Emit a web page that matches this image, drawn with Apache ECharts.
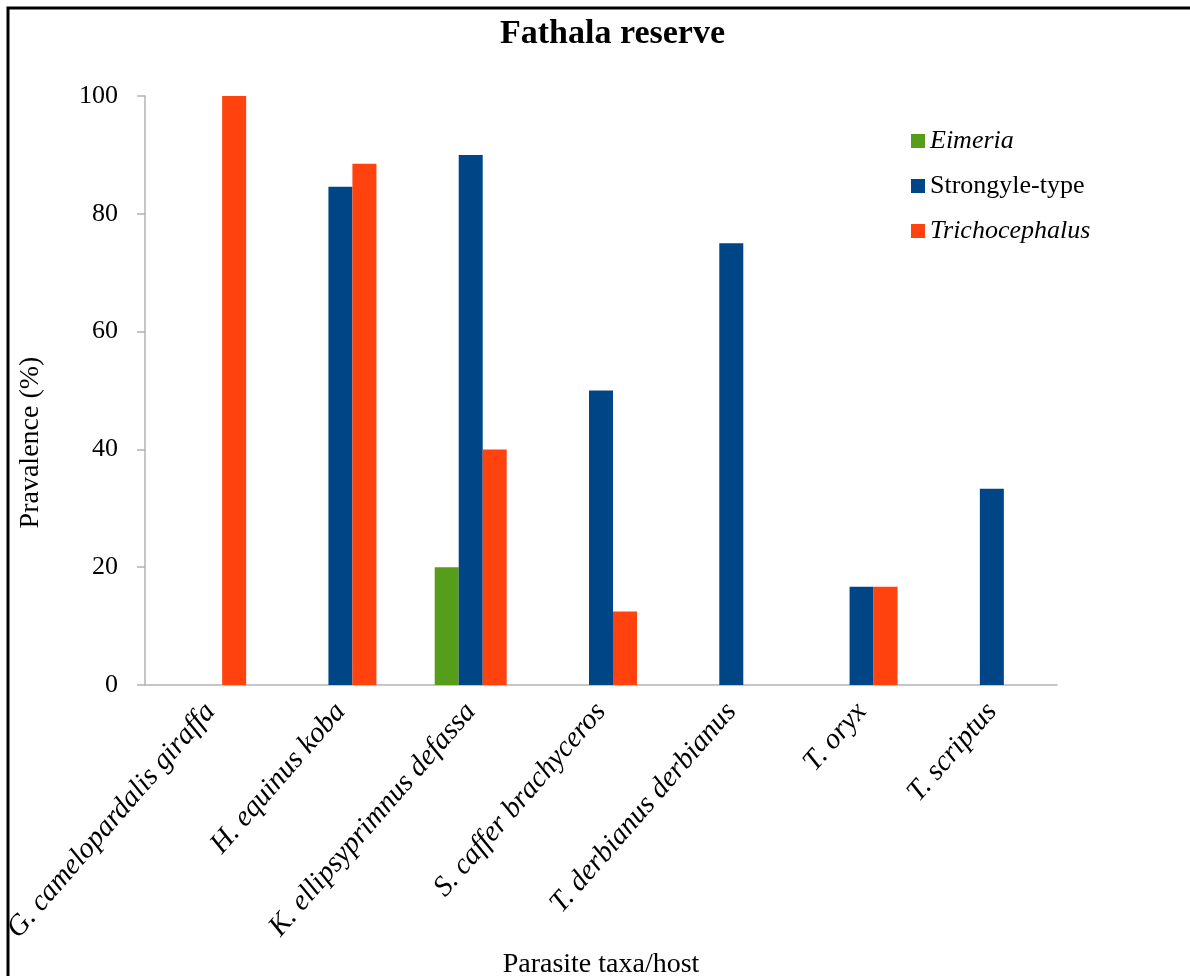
<!DOCTYPE html>
<html>
<head>
<meta charset="utf-8">
<script src="https://cdn.jsdelivr.net/npm/echarts@6/dist/echarts.min.js"></script>
<style>
	html, body { margin: 0; padding: 0; background: #fff; }
	#chart { width: 1190px; height: 976px; }
</style>
</head>
<body>
<div id="chart"></div>
<script>
// hosts (x categories)
const hosts = [
	'G. camelopardalis giraffa',
	'H. equinus koba',
	'K. ellipsyprimnus defassa',
	'S. caffer brachyceros',
	'T. derbianus derbianus',
	'T. oryx',
	'T. scriptus'
];
// prevalence (%) per parasite, null = not found
const eimeria = [null, null, 20, null, null, null, null];
const strongyle = [null, 84.6, 90, 50, 75, 16.7, 33.3];
const trichocephalus = [100, 88.5, 40, 12.5, null, 16.7, null];
const yTicks = [0, 20, 40, 60, 80, 100];

const serif = '"Liberation Serif", "DejaVu Serif", serif';
const axisGray = '#b3b3b3';

let chart = echarts.init(document.getElementById('chart'));

let opt = {
	animation: false,
	textStyle: { fontFamily: serif, color: '#000' },
	graphic: [{	// frame round the figure
		type: 'rect',
		left: 5.5, top: 5.5,
		shape: { width: 1250, height: 1050 },
		style: { fill: 'none', stroke: '#000', lineWidth: 3 }
	}],
	title: {
		text: 'Fathala reserve',
		left: 495, top: 12,
		textStyle: { fontFamily: serif, fontSize: 34, fontWeight: 'bold', color: '#000' }
	},
	legend: {
		orient: 'vertical',
		left: 911, top: 128,
		padding: 0,
		itemWidth: 14, itemHeight: 14,
		itemGap: 19,
		icon: 'rect',
		data: ['Eimeria', 'Strongyle-type', 'Trichocephalus'],
		formatter: name => name === 'Strongyle-type' ? '{n|' + name + '}' : '{i|' + name + '}',
		textStyle: {
			fontFamily: serif, fontSize: 26, color: '#000',
			rich: {
				n: { fontFamily: serif, fontSize: 26, lineHeight: 26, color: '#000' },
				i: { fontFamily: serif, fontSize: 26, lineHeight: 26, fontStyle: 'italic', color: '#000' }
			}
		}
	},
	grid: { left: 145, right: 133, top: 96, bottom: 291, outerBoundsMode: 'none' },
	xAxis: {
		type: 'category',
		data: hosts,
		name: 'Parasite taxa/host',
		nameLocation: 'middle',
		nameGap: 263,
		nameTextStyle: { fontFamily: serif, fontSize: 28, color: '#000' },
		axisLine: { lineStyle: { color: axisGray, width: 1.5 } },
		axisTick: { length: 8, lineStyle: { color: axisGray, width: 1.5 } },
		axisLabel: {
			rotate: 49, interval: 0, margin: 22,
			fontFamily: serif, fontSize: 29, fontStyle: 'italic', color: '#000'
		}
	},
	yAxis: {
		type: 'value',
		min: yTicks[0], max: yTicks[yTicks.length - 1], interval: 20,
		name: 'Pravalence (%)',
		nameLocation: 'middle',
		nameGap: 100,
		nameTextStyle: { fontFamily: serif, fontSize: 28, color: '#000', padding: [0, 104, 0, 0] },
		axisLine: { show: true, lineStyle: { color: axisGray, width: 1.5 } },
		axisTick: { show: true, length: 8, lineStyle: { color: axisGray, width: 1.5 } },
		splitLine: { show: false },
		axisLabel: { margin: 27, fontFamily: serif, fontSize: 26, color: '#000' }
	},
	series: [
		{ name: 'Eimeria', type: 'bar', data: eimeria, barWidth: 24, barGap: 0, itemStyle: { color: '#579d1c' } },
		{ name: 'Strongyle-type', type: 'bar', data: strongyle, barWidth: 24, barGap: 0, itemStyle: { color: '#004586' } },
		{ name: 'Trichocephalus', type: 'bar', data: trichocephalus, barWidth: 24, barGap: 0, itemStyle: { color: '#ff420e' } }
	]
};
chart.setOption(opt);
</script>
</body>
</html>
